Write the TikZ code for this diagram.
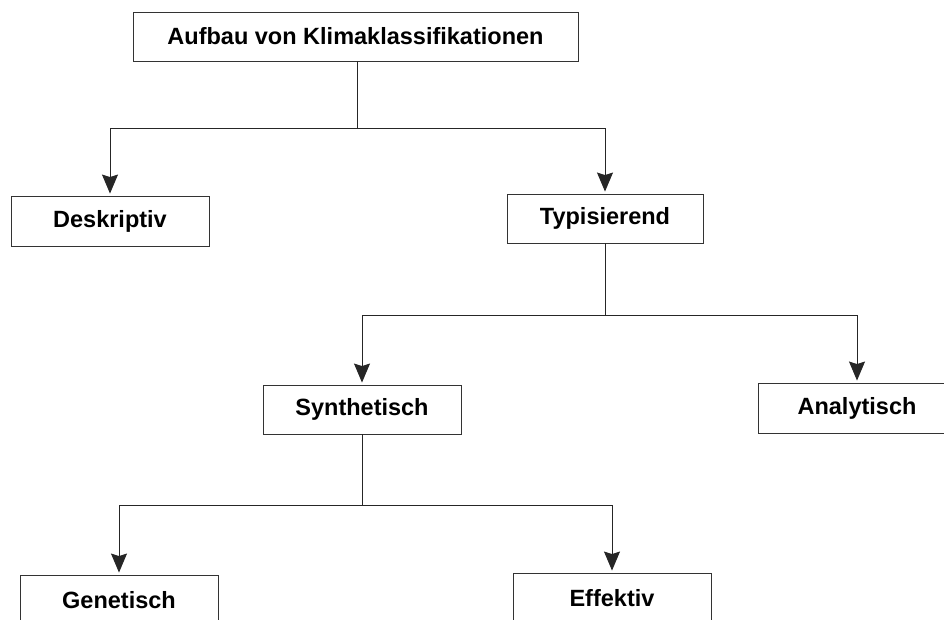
\documentclass[tikz,border=0pt]{standalone}
\usepackage{fontspec}
\setmainfont{Liberation Sans}
\usetikzlibrary{arrows.meta}
\begin{document}
\begin{tikzpicture}[x=1pt,y=-1pt,
  box/.style={draw=black!80, line width=0.9pt, rectangle, inner sep=0pt,
    minimum height=49pt, minimum width=198pt,
    font=\fontsize{23.5}{28}\selectfont\bfseries},
  conn/.style={draw=black!85, line width=1pt},
  arr/.style={conn, -{Stealth[length=19pt,width=16pt,inset=2.5pt]}, shorten >=2pt}]
\useasboundingbox (0,0) rectangle (944,619);
\clip (0,0) rectangle (944,619);
\node[box, minimum width=445pt] (top) at (355.5,36.5) {Aufbau von Klimaklassifikationen};
\node[box, minimum height=50pt] (desk) at (110,221) {Deskriptiv};
\node[box, minimum width=196pt] (typ) at (605,218.5) {Typisierend};
\node[box] (syn) at (362,409.5) {Synthetisch};
\node[box, minimum height=50pt] (ana) at (857,408) {Analytisch};
\node[box, minimum height=50pt] (gen) at (119,600) {Genetisch};
\node[box, minimum height=50pt] (eff) at (612,598) {Effektiv};
\coordinate (j1) at (357,128);
\coordinate (j2) at (605,315);
\coordinate (j3) at (362,505);
\draw[conn] (top.south -| j1) -- (j1);
\draw[arr] (j1) -| (desk.north);
\draw[arr] (j1) -| (typ.north);
\draw[conn] (typ.south) -- (j2);
\draw[arr] (j2) -| (syn.north);
\draw[arr] (j2) -| (ana.north);
\draw[conn] (syn.south) -- (j3);
\draw[arr] (j3) -| (gen.north);
\draw[arr] (j3) -| (eff.north);
\end{tikzpicture}
\end{document}
